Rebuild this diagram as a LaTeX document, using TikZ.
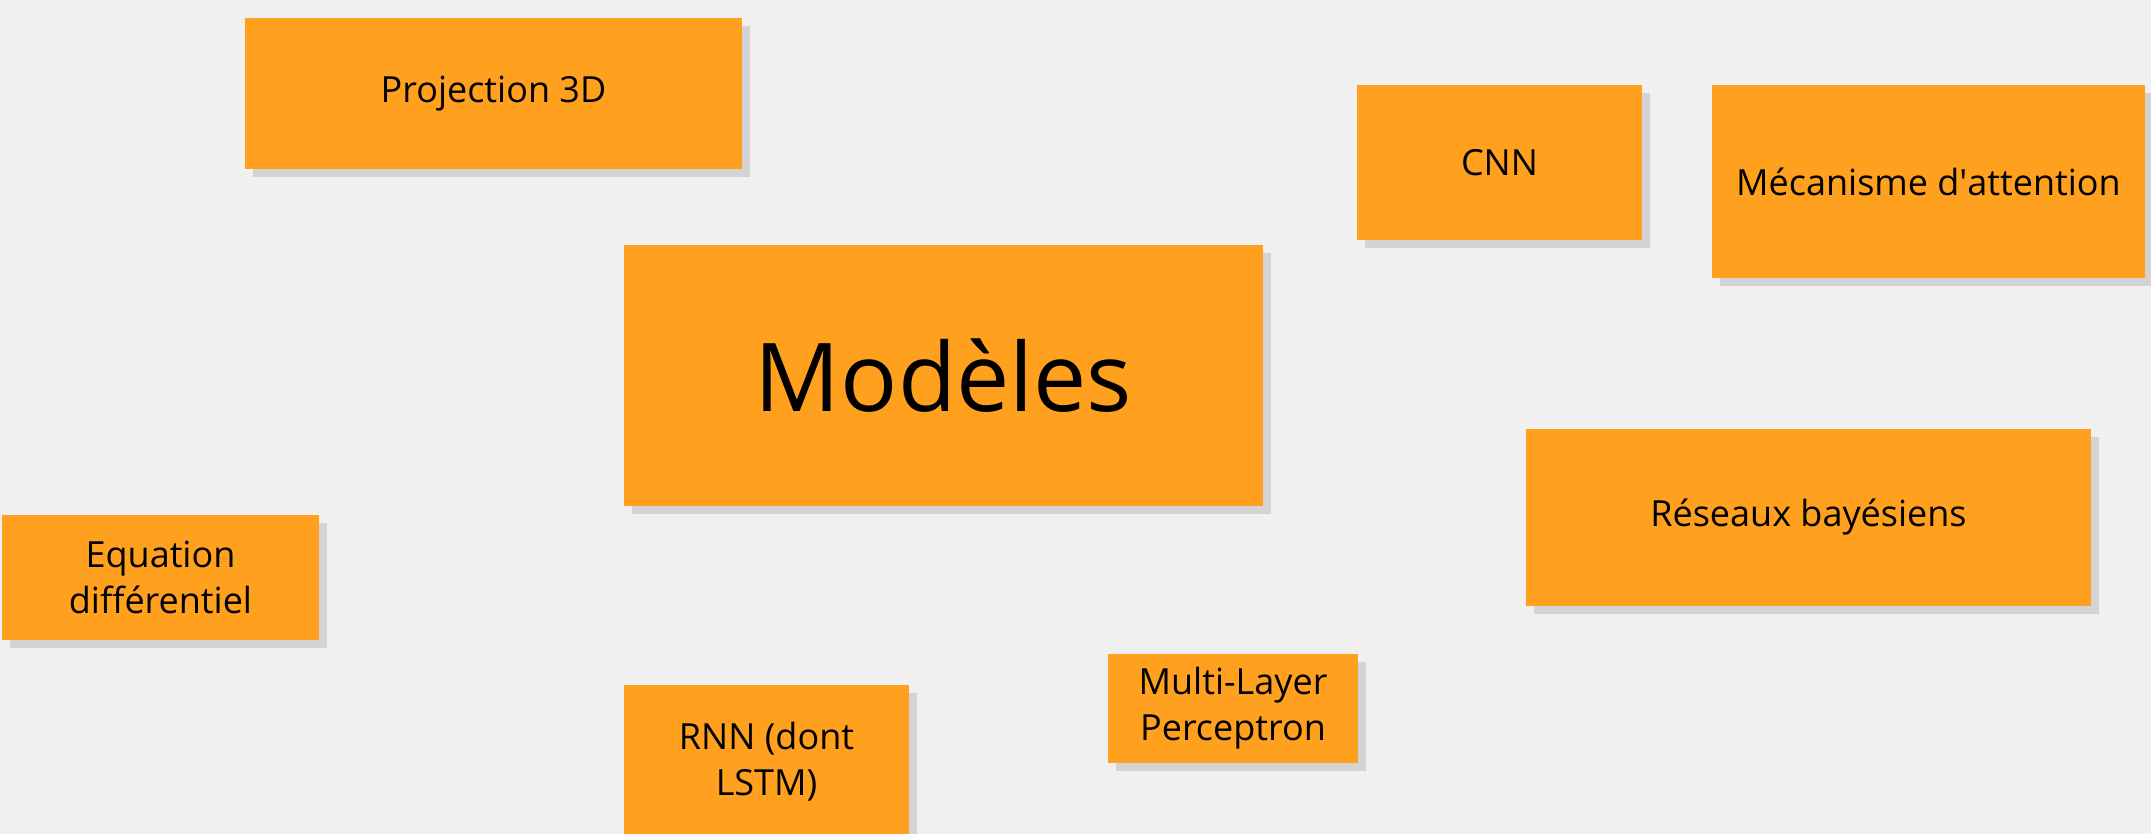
\documentclass[tikz,border=0pt]{standalone}
\usepackage{fontspec}
\setmainfont{Open Sans}
\usetikzlibrary{shadows}
\definecolor{bgc}{HTML}{F0F0F0}
\definecolor{boxc}{HTML}{FFA01F}
\definecolor{shadc}{HTML}{D3D3D3}
\newcommand{\straightquote}{\XeTeXglyph\XeTeXcharglyph"27\relax}
\tikzset{
  card/.style={fill=boxc, draw=none, inner sep=0pt, outer sep=0pt, align=center,
    text=black, font=\fontsize{36}{46}\selectfont,
    drop shadow={shadow xshift=8pt, shadow yshift=-8pt, fill=shadc, opacity=1}},
}
\begin{document}
\begin{tikzpicture}[x=1pt,y=-1pt]
\fill[bgc] (0,0) rectangle (2151,834);
\useasboundingbox (0,0) rectangle (2151,834);
\node[card, minimum width=497pt, minimum height=151pt] (proj) at (493.5,93.5) {Projection 3D};
\node[card, minimum width=285pt, minimum height=155pt] (cnn) at (1499.5,162.5) {CNN};
\node[card, minimum width=433pt, minimum height=193pt] (meca) at (1928.5,181.5) {Mécanisme d\straightquote attention};
\node[card, minimum width=639pt, minimum height=261pt, font=\fontsize{95}{120}\selectfont] (mod) at (943.5,375.5) {Modèles};
\node[card, minimum width=565pt, minimum height=177pt] (res) at (1808.5,517.5) {Réseaux bayésiens};
\node[card, minimum width=317pt, minimum height=125pt] (eq) at (160.5,577.5) {Equation\\différentiel};
\node[card, minimum width=285pt, minimum height=154pt] (rnn) at (766.5,762) {RNN (dont\\LSTM)};
\node[card, minimum width=250pt, minimum height=109pt] (mlp) at (1233,708.5) {Multi-Layer\\Perceptron};
\end{tikzpicture}
\end{document}
